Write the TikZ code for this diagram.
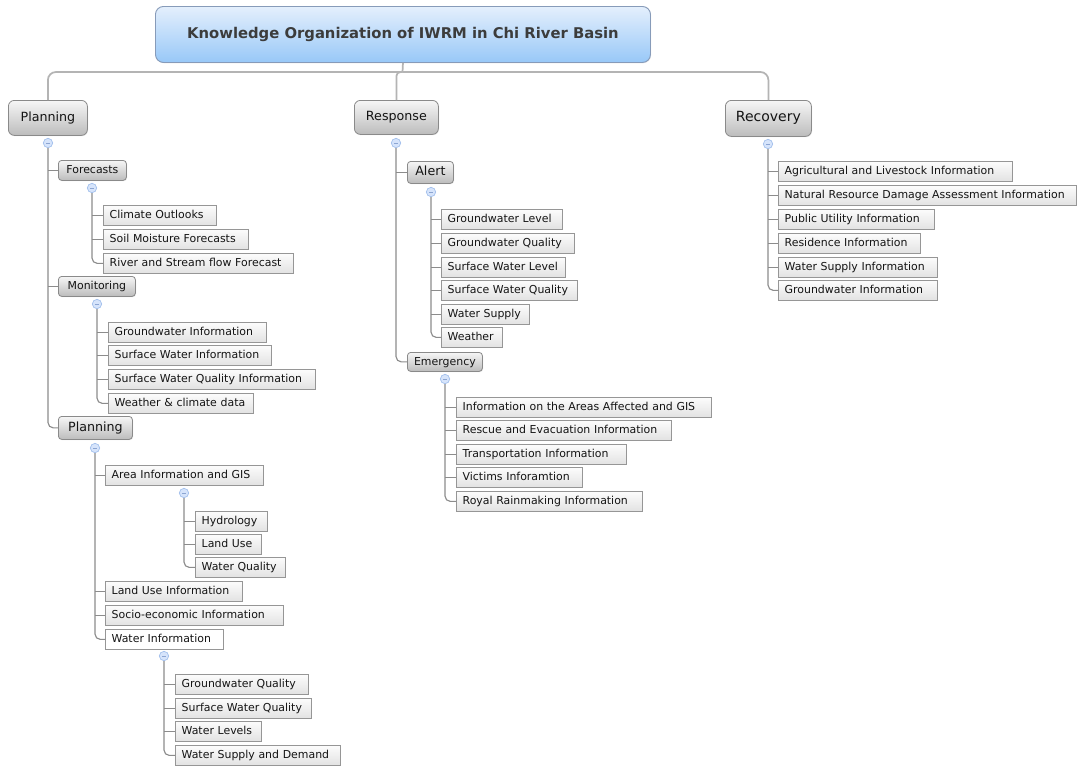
\documentclass[tikz,border=0pt]{standalone}
\usepackage{fontspec}
\setmainfont{DejaVu Sans}
\usetikzlibrary{shadows}
\definecolor{connc}{RGB}{140,140,140}
\definecolor{topc}{RGB}{180,180,180}
\definecolor{leafbd}{RGB}{150,150,150}
\definecolor{leaftop}{RGB}{252,252,252}
\definecolor{leafbot}{RGB}{226,226,226}
\definecolor{partop}{RGB}{246,246,246}
\definecolor{parbot}{RGB}{188,188,188}
\definecolor{parbd}{RGB}{138,138,138}
\definecolor{titletop}{RGB}{228,239,252}
\definecolor{titlebot}{RGB}{152,200,248}
\definecolor{titlebd}{RGB}{135,155,185}
\definecolor{titletxt}{RGB}{60,60,60}
\definecolor{txt}{RGB}{20,20,20}
\definecolor{togfill}{RGB}{214,228,251}
\definecolor{togbd}{RGB}{160,190,236}
\definecolor{togmin}{RGB}{140,165,210}
\tikzset{
  leaf/.style={draw=leafbd, line width=0.6pt, top color=leaftop, bottom color=leafbot,
    anchor=north west, minimum height=15pt, inner xsep=4.7pt, inner ysep=0pt,
    text height=6.4pt, text depth=1.9pt, font=\fontsize{8.2}{9.8}\selectfont, text=txt,
    align=left, drop shadow={shadow xshift=0.5pt, shadow yshift=-0.5pt, opacity=0.18}},
  parbox/.style={draw=parbd, line width=0.6pt, top color=partop, bottom color=parbot,
    anchor=north west, rounded corners=2.5pt, inner sep=0pt, text=txt,
    text height=.74em, text depth=.21em,
    drop shadow={shadow xshift=0.5pt, shadow yshift=-0.6pt, opacity=0.18}},
  tog/.style={circle, draw=togbd, fill=togfill, line width=0.5pt, minimum size=7pt, inner sep=0pt,
    path picture={\draw[togmin, line width=0.5pt] ([xshift=-1.6pt]path picture bounding box.center) -- ([xshift=1.6pt]path picture bounding box.center);}},
  conn/.style={draw=connc, line width=0.85pt},
  topconn/.style={draw=topc, line width=1.3pt},
}
\newcommand\leafn[6][]{\pgfmathsetmacro\lfw{0.75*#5-9.4}\node[leaf,#1,text width=\lfw pt] (#2) at (#3,#4) {#6};}
\newcommand\parn[8][]{\pgfmathsetmacro\pw{0.75*#5}\pgfmathsetmacro\ph{0.75*#6}\node[parbox,#1,minimum width=\pw pt,minimum height=\ph pt,font=\fontsize{#7}{#7}\selectfont] (#2) at (#3,#4) {#8};}
\begin{document}
\begin{tikzpicture}[x=0.75pt,y=-0.75pt]
\useasboundingbox (0,0) rectangle (1077,765);
\fill[white] (0,0) rectangle (1077,765);
% title
\node[draw=titlebd, line width=0.7pt, rounded corners=6pt, top color=titletop, bottom color=titlebot,
  minimum width=371.25pt, minimum height=42pt, anchor=north west, inner sep=0pt,
  font=\bfseries\fontsize{11.1}{13}\selectfont, text=titletxt,
  drop shadow={shadow xshift=0.5pt, shadow yshift=-0.6pt, opacity=0.15}] (title) at (155,6)
  {Knowledge Organization of IWRM in Chi River Basin};
% top level
\parn[rounded corners=4.5pt]{Pl}{8}{100}{79}{35}{9.5}{Planning}
\parn[rounded corners=4.5pt]{Rs}{354}{100}{84}{34}{9.5}{Response}
\parn[rounded corners=4.5pt]{Rc}{725}{100}{86}{36}{10.5}{Recovery}
\coordinate (tj) at (402.5,72);
\draw[topconn] (title.south) -- (tj);
\draw[topconn, rounded corners=6] (tj) -| (Pl.north);
\draw[topconn, rounded corners=6] (tj) -| (Rc.north);
\draw[topconn, rounded corners=3] (tj) -| (Rs.north);
\node[tog] (tPl) at (48,143) {};
\node[tog] (tRs) at (396,143) {};
\node[tog] (tRc) at (768,144) {};
% ---------- Planning branch
\parn{Fc}{58}{160}{68}{20}{8.2}{Forecasts}
\parn{Mo}{58}{276}{77}{20}{8.2}{Monitoring}
\parn{Ps}{58}{416}{74}{23}{9.5}{Planning}
\draw[conn, rounded corners=4] (tPl.south) |- (Ps.west);
\draw[conn] (tPl.south |- Fc.west) -- (Fc.west);
\draw[conn] (tPl.south |- Mo.west) -- (Mo.west);
% Forecasts
\node[tog] (tFc) at (92,188) {};
\leafn{fc1}{103}{205}{113}{Climate Outlooks}
\leafn{fc2}{103}{229}{145}{Soil Moisture Forecasts}
\leafn{fc3}{103}{253}{190}{River and Stream flow Forecast}
\draw[conn, rounded corners=4] (tFc.south) |- (fc3.west);
\draw[conn] (tFc.south |- fc1.west) -- (fc1.west);
\draw[conn] (tFc.south |- fc2.west) -- (fc2.west);
% Monitoring
\node[tog] (tMo) at (97,304) {};
\leafn{mo1}{108}{322}{158}{Groundwater Information}
\leafn{mo2}{108}{345}{163}{Surface Water Information}
\leafn{mo3}{108}{369}{207}{Surface Water Quality Information}
\leafn{mo4}{108}{393}{145}{Weather \& climate data}
\draw[conn, rounded corners=4] (tMo.south) |- (mo4.west);
\draw[conn] (tMo.south |- mo1.west) -- (mo1.west);
\draw[conn] (tMo.south |- mo2.west) -- (mo2.west);
\draw[conn] (tMo.south |- mo3.west) -- (mo3.west);
% Planning sub
\node[tog] (tPs) at (95,448) {};
\leafn{pa}{105}{465}{158}{Area Information and GIS}
\leafn{pl}{105}{581}{137}{Land Use Information}
\leafn{pe}{105}{605}{178}{Socio-economic Information}
\leafn[top color=white,bottom color=white]{pw}{105}{629}{118}{Water Information}
\draw[conn, rounded corners=4] (tPs.south) |- (pw.west);
\draw[conn] (tPs.south |- pa.west) -- (pa.west);
\draw[conn] (tPs.south |- pl.west) -- (pl.west);
\draw[conn] (tPs.south |- pe.west) -- (pe.west);
% Area info
\node[tog] (tPa) at (184,493) {};
\leafn{hy}{195}{511}{72}{Hydrology}
\leafn{lu}{195}{534}{66}{Land Use}
\leafn{wq}{195}{557}{90}{Water Quality}
\draw[conn, rounded corners=4] (tPa.south) |- (wq.west);
\draw[conn] (tPa.south |- hy.west) -- (hy.west);
\draw[conn] (tPa.south |- lu.west) -- (lu.west);
% Water info
\node[tog] (tPw) at (164,656) {};
\leafn{w1}{175}{674}{133}{Groundwater Quality}
\leafn{w2}{175}{698}{136}{Surface Water Quality}
\leafn{w3}{175}{721}{86}{Water Levels}
\leafn{w4}{175}{745}{165}{Water Supply and Demand}
\draw[conn, rounded corners=4] (tPw.south) |- (w4.west);
\draw[conn] (tPw.south |- w1.west) -- (w1.west);
\draw[conn] (tPw.south |- w2.west) -- (w2.west);
\draw[conn] (tPw.south |- w3.west) -- (w3.west);
% ---------- Response branch
\parn{Al}{407}{161}{46}{22}{9.5}{Alert}
\parn{Em}{407}{352}{75}{19}{8.2}{Emergency}
\draw[conn, rounded corners=4] (tRs.south) |- (Em.west);
\draw[conn] (tRs.south |- Al.west) -- (Al.west);
\node[tog] (tAl) at (431,192) {};
\leafn{a1}{441}{209}{121}{Groundwater Level}
\leafn{a2}{441}{233}{133}{Groundwater Quality}
\leafn{a3}{441}{257}{124}{Surface Water Level}
\leafn{a4}{441}{280}{136}{Surface Water Quality}
\leafn{a5}{441}{304}{88}{Water Supply}
\leafn{a6}{441}{327}{61}{Weather}
\draw[conn, rounded corners=4] (tAl.south) |- (a6.west);
\foreach \n in {a1,a2,a3,a4,a5}{\draw[conn] (tAl.south |- \n.west) -- (\n.west);}
\node[tog] (tEm) at (445,379) {};
\leafn{e1}{456}{397}{255}{Information on the Areas Affected and GIS}
\leafn{e2}{456}{420}{215}{Rescue and Evacuation Information}
\leafn{e3}{456}{444}{170}{Transportation Information}
\leafn{e4}{456}{467}{126}{Victims Inforamtion}
\leafn{e5}{456}{491}{186}{Royal Rainmaking Information}
\draw[conn, rounded corners=4] (tEm.south) |- (e5.west);
\foreach \n in {e1,e2,e3,e4}{\draw[conn] (tEm.south |- \n.west) -- (\n.west);}
% ---------- Recovery branch
\leafn{r1}{778}{161}{234}{Agricultural and Livestock Information}
\leafn{r2}{778}{185}{298}{Natural Resource Damage Assessment Information}
\leafn{r3}{778}{209}{156}{Public Utility Information}
\leafn{r4}{778}{233}{142}{Residence Information}
\leafn{r5}{778}{257}{159}{Water Supply Information}
\leafn{r6}{778}{280}{159}{Groundwater Information}
\draw[conn, rounded corners=4] (tRc.south) |- (r6.west);
\foreach \n in {r1,r2,r3,r4,r5}{\draw[conn] (tRc.south |- \n.west) -- (\n.west);}
\end{tikzpicture}
\end{document}
